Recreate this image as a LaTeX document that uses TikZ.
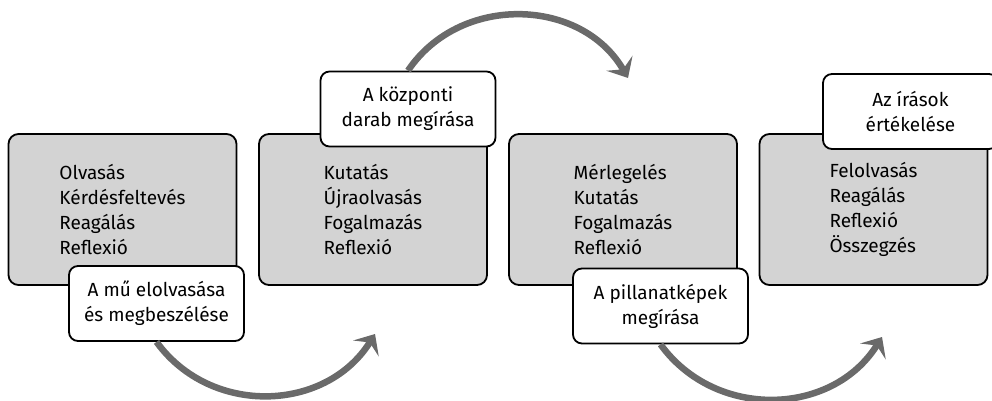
\documentclass[tikz,border=0pt]{standalone}
\usepackage{fontspec}
\setmainfont{Fira Sans}
\usetikzlibrary{arrows.meta}

\definecolor{boxgray}{RGB}{211,211,211}
\definecolor{arrowgray}{RGB}{106,106,106}

\tikzset{
	phasebox/.style={draw, line width=1.8pt, rounded corners=10pt, fill=boxgray,
		minimum width=228pt, minimum height=151pt, align=left,
		font=\fontsize{19}{25}\selectfont},
	stagebox/.style={draw, line width=1.8pt, rounded corners=9pt, fill=white,
		minimum width=175pt, minimum height=75pt, align=center,
		font=\fontsize{19}{25}\selectfont},
	flowarrow/.style={draw=arrowgray, line width=6.5pt,
		-{Stealth[length=17pt, width=30pt, inset=7pt]}}
}

\begin{document}
\begin{tikzpicture}[x=1pt, y=1pt]
	\useasboundingbox (0,0) rectangle (992,-400);
	
	% gray phase boxes
	\node[phasebox] (olvas) at (122.5,-209.5) {Olvasás\\Kérdésfeltevés\\Reagálás\\Reflexió};
	\node[phasebox] (kutat) at (373,-209.5) {Kutatás\\Újraolvasás\\Fogalmazás\\Reflexió};
	\node[phasebox] (merleg) at (623,-209.5) {Mérlegelés\\Kutatás\\Fogalmazás\\Reflexió};
	\node[phasebox] (felolv) at (873.5,-209.5) {Felolvasás\\Reagálás\\Reflexió\\Összegzés};
	
	% white stage labels
	\node[stagebox] (elolvas) at (156.5,-303.5) {A mű elolvasása\\és megbeszélése};
	\node[stagebox] (kozpont) at (408,-109) {A központi\\darab megírása};
	\node[stagebox] (pillanat) at (660.5,-306) {A pillanatképek\\megírása};
	\node[stagebox] (ertekel) at (910.5,-111.5) {Az írások\\értékelése};
	
	% arrow ends
	\coordinate (end1) at (375,-334);
	\coordinate (end2) at (628,-78);
	\coordinate (end3) at (882,-337);
	
	% arrows between stages
	\draw[flowarrow] (elolvas.south) to[out=-54, in=-122, looseness=1.08] (end1);
	\draw[flowarrow] (kozpont.north) to[out=56, in=120, looseness=1.08] (end2);
	\draw[flowarrow] (pillanat.south) to[out=-54, in=-122, looseness=1.08] (end3);
	
\end{tikzpicture}
\end{document}
